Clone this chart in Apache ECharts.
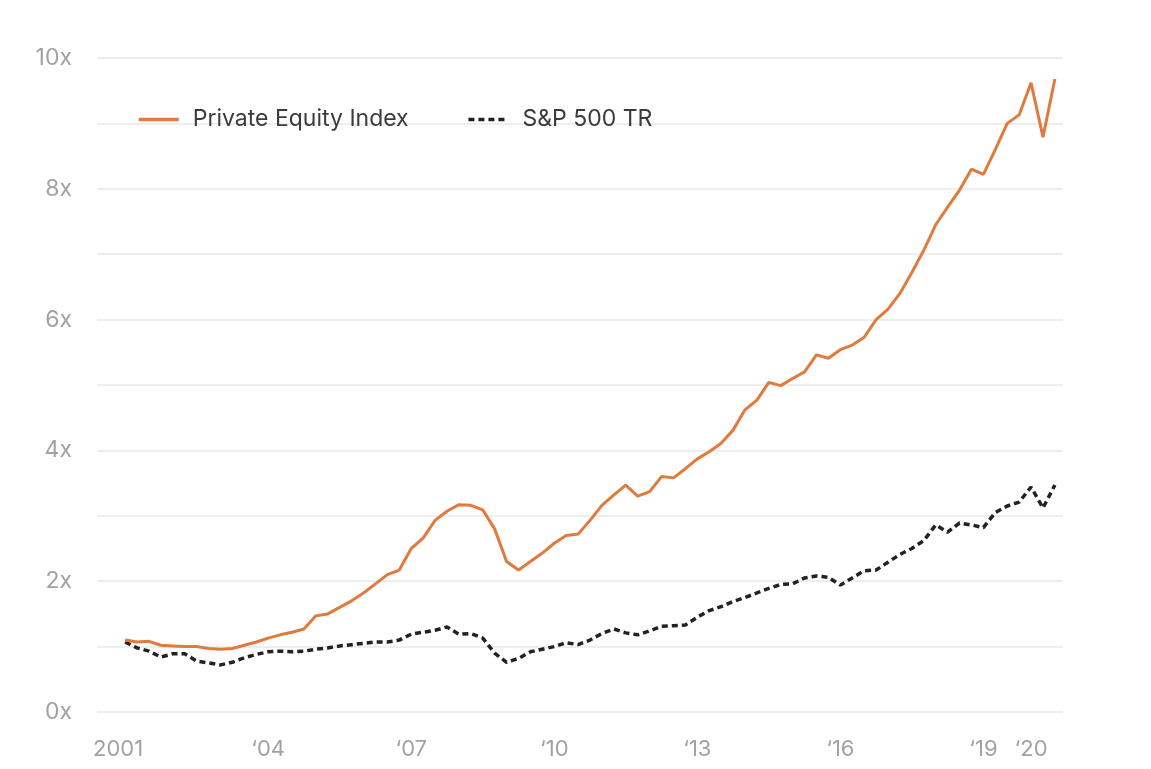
<!DOCTYPE html>
<html>
<head>
<meta charset="utf-8">
<script src="https://cdn.jsdelivr.net/npm/echarts@6/dist/echarts.min.js"></script>
<style>
html,body{margin:0;padding:0;background:#ffffff;}
#chart{width:1151px;height:769px;}
</style>
</head>
<body>
<div id="chart"></div>
<script>
// Quarterly observations, first at start of 2001, last mid-2020
var startYear = 2001;
var privateEquity = [
  1.10, 1.07, 1.08, 1.02, 1.01, 1.00, 1.00, 0.97, 0.96, 0.97,
  1.02, 1.07, 1.13, 1.18, 1.22, 1.27, 1.47, 1.50, 1.60, 1.70,
  1.82, 1.96, 2.10, 2.17, 2.50, 2.66, 2.93, 3.07, 3.17, 3.16,
  3.09, 2.80, 2.30, 2.17, 2.30, 2.43, 2.58, 2.70, 2.72, 2.93,
  3.16, 3.32, 3.47, 3.30, 3.37, 3.60, 3.58, 3.72, 3.87, 3.98,
  4.11, 4.31, 4.62, 4.77, 5.04, 4.99, 5.10, 5.20, 5.46, 5.41,
  5.54, 5.61, 5.73, 6.00, 6.16, 6.40, 6.72, 7.06, 7.45, 7.72,
  7.98, 8.30, 8.22, 8.60, 9.00, 9.13, 9.62, 8.79, 9.68
];
var sp500 = [
  1.07, 0.98, 0.93, 0.84, 0.89, 0.89, 0.78, 0.75, 0.72, 0.76,
  0.83, 0.88, 0.92, 0.93, 0.92, 0.93, 0.96, 0.98, 1.01, 1.03,
  1.05, 1.07, 1.07, 1.10, 1.19, 1.22, 1.25, 1.30, 1.19, 1.20,
  1.13, 0.90, 0.76, 0.82, 0.92, 0.96, 1.00, 1.06, 1.03, 1.10,
  1.20, 1.27, 1.21, 1.18, 1.24, 1.31, 1.32, 1.33, 1.45, 1.55,
  1.61, 1.69, 1.75, 1.82, 1.89, 1.95, 1.96, 2.05, 2.08, 2.06,
  1.94, 2.05, 2.16, 2.17, 2.29, 2.41, 2.50, 2.62, 2.86, 2.75,
  2.89, 2.86, 2.82, 3.05, 3.15, 3.21, 3.44, 3.12, 3.47
];
var xTickYears = [2001, 2004, 2007, 2010, 2013, 2016, 2019, 2020];
var xTickLabels = ['2001', "\u201804", "\u201807", "\u201810", "\u201813", "\u201816", "\u201819", "\u201820"];
var seriesNames = ['Private Equity Index', 'S&P 500 TR'];

function toPoints(arr) {
  return arr.map(function (v, i) { return [startYear + i * 0.25, v]; });
}

var chart = echarts.init(document.getElementById('chart'), null, {renderer: 'canvas'});
var labelFont = 'Inter, "Noto Sans", sans-serif';
var axisGray = '#a2a2a2';
chart.setOption({
  backgroundColor: '#ffffff',
  animation: false,
  grid: {left: 97, right: 88, top: 58, bottom: 57, containLabel: false},
  legend: {
    left: 137,
    top: 108,
    padding: 0,
    itemWidth: 40,
    itemHeight: 26,
    itemGap: 58,
    data: seriesNames,
    itemStyle: {opacity: 0},
    lineStyle: {width: 3.5},
    textStyle: {color: '#3b3b3b', fontSize: 23, fontFamily: labelFont, padding: [0, 0, 0, 9]}
  },
  xAxis: {
    type: 'value',
    min: 2000.41,
    max: 2020.67,
    axisLine: {show: false},
    axisTick: {show: false},
    splitLine: {show: false},
    axisLabel: {
      customValues: xTickYears,
      margin: 26,
      color: axisGray,
      fontSize: 22,
      fontFamily: labelFont,
      formatter: function (v) {
        var idx = xTickYears.indexOf(Math.round(v));
        if (idx === 0) { return '{first|' + xTickLabels[0] + '}'; }
        return idx >= 0 ? xTickLabels[idx] : '';
      },
      rich: {
        first: {color: axisGray, fontSize: 22, fontFamily: labelFont, padding: [0, 14, 0, 0]}
      }
    }
  },
  yAxis: {
    type: 'value',
    min: 0,
    max: 10,
    interval: 1,
    axisLine: {show: false},
    axisTick: {show: false},
    splitLine: {show: true, lineStyle: {color: '#e9e9e9', width: 1.5}},
    axisLabel: {
      margin: 25,
      color: axisGray,
      fontSize: 23,
      fontFamily: labelFont,
      formatter: function (v) { return (v % 2 === 0) ? v + 'x' : ''; }
    }
  },
  series: [
    {
      name: seriesNames[0],
      type: 'line',
      data: toPoints(privateEquity),
      symbol: 'none',
      lineStyle: {color: '#e07a3e', width: 3},
      itemStyle: {color: '#e07a3e'},
      z: 3
    },
    {
      name: seriesNames[1],
      type: 'line',
      data: toPoints(sp500),
      symbol: 'none',
      lineStyle: {color: '#222222', width: 3.5, type: [6, 4]},
      itemStyle: {color: '#222222'},
      z: 2
    }
  ]
});
</script>
</body>
</html>
